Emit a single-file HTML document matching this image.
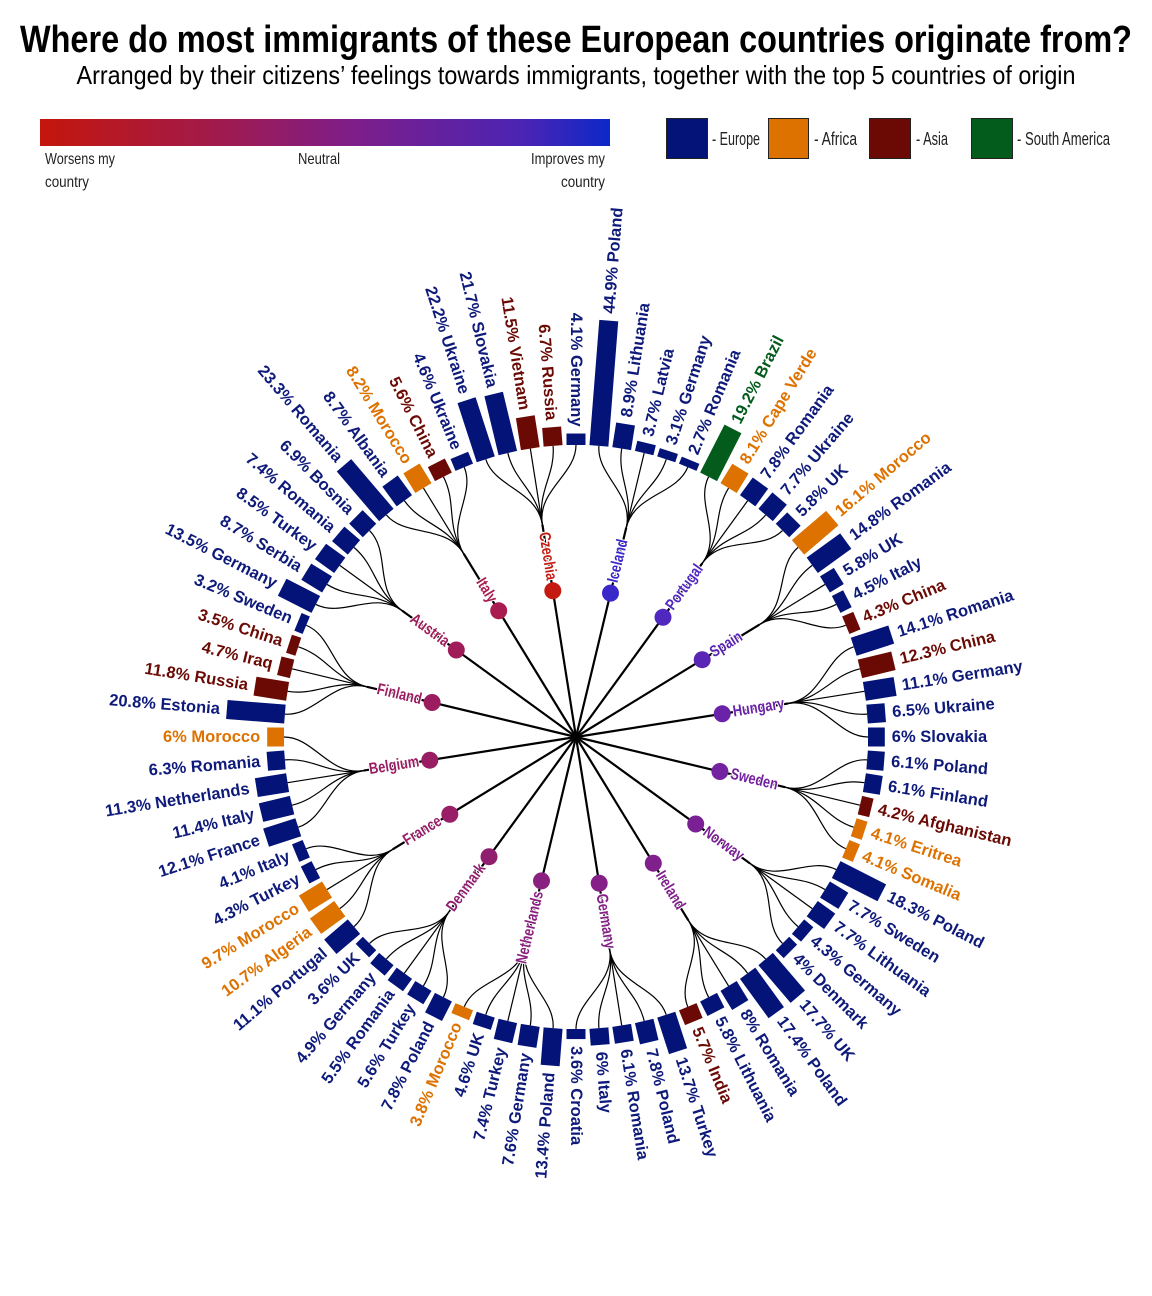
<!DOCTYPE html>
<html><head><meta charset="utf-8">
<style>
html,body{margin:0;padding:0;background:#fff;}
svg{display:block;}
.n{font-family:"Liberation Sans Narrow","Liberation Sans",sans-serif;}
.b{font-family:"Liberation Sans",sans-serif;font-weight:bold;font-size:16.5px;}
</style></head>
<body>
<svg id="s" width="1152" height="1296" viewBox="0 0 1152 1296" xmlns="http://www.w3.org/2000/svg">
<defs>
<linearGradient id="g" x1="0" x2="1" y1="0" y2="0">
<stop offset="0" stop-color="#c4160c"/>
<stop offset="0.3" stop-color="#a21a4a"/>
<stop offset="0.55" stop-color="#7e1e8a"/>
<stop offset="0.85" stop-color="#4a24b4"/>
<stop offset="1" stop-color="#0c28c8"/>
</linearGradient>
</defs>
<text class="n" x="576" y="52" text-anchor="middle" font-size="38" font-weight="bold" textLength="1112" lengthAdjust="spacingAndGlyphs">Where do most immigrants of these European countries originate from?</text>
<text class="n" x="576" y="84" text-anchor="middle" font-size="26" textLength="999" lengthAdjust="spacingAndGlyphs">Arranged by their citizens’ feelings towards immigrants, together with the top 5 countries of origin</text>
<rect x="40" y="119" width="570" height="27" fill="url(#g)"/>
<g class="n" font-size="16" fill="#222">
<text x="45" y="164" textLength="70" lengthAdjust="spacingAndGlyphs">Worsens my</text>
<text x="45" y="187" textLength="44" lengthAdjust="spacingAndGlyphs">country</text>
<text x="298" y="164" textLength="42" lengthAdjust="spacingAndGlyphs">Neutral</text>
<text x="531" y="164" textLength="74" lengthAdjust="spacingAndGlyphs">Improves my</text>
<text x="561" y="187" textLength="44" lengthAdjust="spacingAndGlyphs">country</text>
</g>
<g stroke="#222" stroke-width="1">
<rect x="666.5" y="118.5" width="41" height="40" fill="#031378"/>
<rect x="768.5" y="118.5" width="40" height="40" fill="#dd7200"/>
<rect x="869.5" y="118.5" width="41" height="40" fill="#6b0a04"/>
<rect x="971.5" y="118.5" width="41" height="40" fill="#045c1c"/>
</g>
<g class="n" font-size="18" fill="#222">
<text x="712" y="145" textLength="48" lengthAdjust="spacingAndGlyphs">- Europe</text>
<text x="814" y="145" textLength="43" lengthAdjust="spacingAndGlyphs">- Africa</text>
<text x="916" y="145" textLength="32" lengthAdjust="spacingAndGlyphs">- Asia</text>
<text x="1017" y="145" textLength="93" lengthAdjust="spacingAndGlyphs">- South America</text>
</g>
<g id="chart"></g>
</svg>
<script>
var C={E:"#031378",A:"#dd7200",S:"#6b0a04",M:"#045c1c"};
var TC={E:"#0e1a7a",A:"#dd7200",S:"#6b0a04",M:"#045c1c"};
var groups=[
["Iceland","#3a28c8",[[44.9,"Poland","E"],[8.9,"Lithuania","E"],[3.7,"Latvia","E"],[3.1,"Germany","E"],[2.7,"Romania","E"]]],
["Portugal","#5028c0",[[19.2,"Brazil","M"],[8.1,"Cape Verde","A"],[7.8,"Romania","E"],[7.7,"Ukraine","E"],[5.8,"UK","E"]]],
["Spain","#5a24b4",[[16.1,"Morocco","A"],[14.8,"Romania","E"],[5.8,"UK","E"],[4.5,"Italy","E"],[4.3,"China","S"]]],
["Hungary","#6a22a8",[[14.1,"Romania","E"],[12.3,"China","S"],[11.1,"Germany","E"],[6.5,"Ukraine","E"],[6,"Slovakia","E"]]],
["Sweden","#7422a0",[[6.1,"Poland","E"],[6.1,"Finland","E"],[4.2,"Afghanistan","S"],[4.1,"Eritrea","A"],[4.1,"Somalia","A"]]],
["Norway","#7a2094",[[18.3,"Poland","E"],[7.7,"Sweden","E"],[7.7,"Lithuania","E"],[4.3,"Germany","E"],[4,"Denmark","E"]]],
["Ireland","#80208c",[[17.7,"UK","E"],[17.4,"Poland","E"],[8,"Romania","E"],[5.8,"Lithuania","E"],[5.7,"India","S"]]],
["Germany","#842088",[[13.7,"Turkey","E"],[7.8,"Poland","E"],[6.1,"Romania","E"],[6,"Italy","E"],[3.6,"Croatia","E"]]],
["Netherlands","#8a2080",[[13.4,"Poland","E"],[7.6,"Germany","E"],[7.4,"Turkey","E"],[4.6,"UK","E"],[3.8,"Morocco","A"]]],
["Denmark","#90206f",[[7.8,"Poland","E"],[5.6,"Turkey","E"],[5.5,"Romania","E"],[4.9,"Germany","E"],[3.6,"UK","E"]]],
["France","#981e68",[[11.1,"Portugal","E"],[10.7,"Algeria","A"],[9.7,"Morocco","A"],[4.3,"Turkey","E"],[4.1,"Italy","E"]]],
["Belgium","#9a1d64",[[12.1,"France","E"],[11.4,"Italy","E"],[11.3,"Netherlands","E"],[6.3,"Romania","E"],[6,"Morocco","A"]]],
["Finland","#9c1c60",[[20.8,"Estonia","E"],[11.8,"Russia","S"],[4.7,"Iraq","S"],[3.5,"China","S"],[3.2,"Sweden","E"]]],
["Austria","#a01c58",[[13.5,"Germany","E"],[8.7,"Serbia","E"],[8.5,"Turkey","E"],[7.4,"Romania","E"],[6.9,"Bosnia","E"]]],
["Italy","#a81c50",[[23.3,"Romania","E"],[8.7,"Albania","E"],[8.2,"Morocco","A"],[5.6,"China","S"],[4.6,"Ukraine","E"]]],
["Czechia","#c41a10",[[22.2,"Ukraine","E"],[21.7,"Slovakia","E"],[11.5,"Vietnam","S"],[6.7,"Russia","S"],[4.1,"Germany","E"]]]
];
var cx=576,cy=737,R0=292,NS="http://www.w3.org/2000/svg";
function P(r,a){var t=a*Math.PI/180;return [cx+r*Math.sin(t),cy-r*Math.cos(t)];}
function el(n,at,txt){var e=document.createElementNS(NS,n);for(var k in at)e.setAttribute(k,at[k]);if(txt!=null)e.textContent=txt;return e;}
var g=document.getElementById("chart");
var lines=el("g",{stroke:"#000",fill:"none"}),bars=el("g",{}),labs=el("g",{}),hubs=el("g",{});
g.appendChild(lines);g.appendChild(bars);g.appendChild(labs);g.appendChild(hubs);
groups.forEach(function(gr,gi){
  var ga=(gi*5+3)*4.5;
  var c=P(215,ga);
  lines.appendChild(el("line",{x1:cx,y1:cy,x2:c[0].toFixed(1),y2:c[1].toFixed(1),"stroke-width":2.2}));
  gr[2].forEach(function(b,j){
    var a=(gi*5+j+1)*4.5;
    var p1=P(250,ga),p2=P(262,a),p3=P(R0,a);
    lines.appendChild(el("path",{d:"M"+c.join(" ")+" C"+p1.join(" ")+" "+p2.join(" ")+" "+p3.join(" "),"stroke-width":1.2}));
    var L=Math.max(2.8*b[0],6);
    bars.appendChild(el("rect",{x:-9.5,y:-(R0+L),width:19,height:L,fill:C[b[2]],transform:"translate("+cx+" "+cy+") rotate("+a+")"}));
    var tp=P(R0+L+7,a),right=a<=180;
    labs.appendChild(el("text",{"class":"b",x:tp[0].toFixed(1),y:tp[1].toFixed(1),fill:TC[b[2]],"text-anchor":right?"start":"end","dominant-baseline":"central",transform:"rotate("+(right?a-90:a+90)+" "+tp[0].toFixed(1)+" "+tp[1].toFixed(1)+")"},b[0]+"% "+b[1]));
  });
  var d=P(148,ga);
  hubs.appendChild(el("circle",{cx:d[0].toFixed(1),cy:d[1].toFixed(1),r:8.5,fill:gr[1]}));
  var lp=P(159,ga),right=ga<=180;
  var t=el("text",{x:0,y:0,fill:gr[1],"font-family":"Liberation Sans, sans-serif","font-size":16,"font-weight":"bold",stroke:"#fff","stroke-width":2.5,"paint-order":"stroke","text-anchor":right?"start":"end","dominant-baseline":"central",transform:"translate("+lp[0].toFixed(1)+" "+lp[1].toFixed(1)+") rotate("+(right?ga-90:ga+90)+") scale(0.8 1)"},gr[0]);
  hubs.appendChild(t);
});
var ctr=el("circle",{cx:cx,cy:cy,r:3,fill:"#000"});g.appendChild(ctr);
</script>
</body></html>
